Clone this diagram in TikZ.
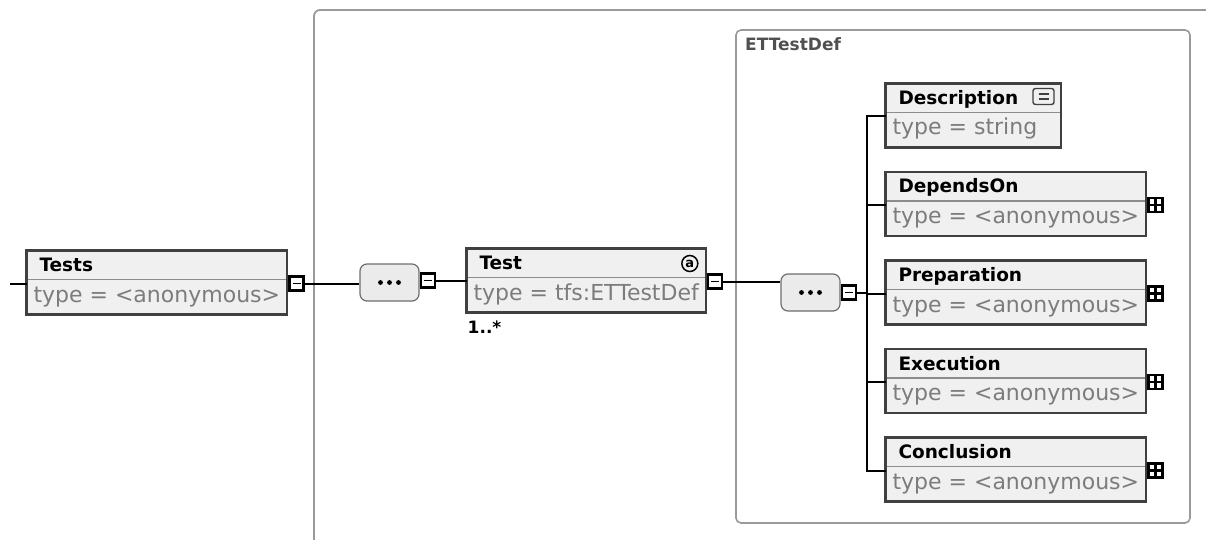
\documentclass[tikz,border=0pt]{standalone}
\usepackage{fontspec}
\setmainfont{DejaVu Sans}
\usetikzlibrary{positioning,shapes.multipart}

\definecolor{boxline}{HTML}{404040}
\definecolor{boxfill}{HTML}{F0F0F0}
\definecolor{splitline}{HTML}{8C8C8C}
\definecolor{typegray}{HTML}{7C7C7C}
\definecolor{framegray}{HTML}{9A9A9A}
\definecolor{labelgray}{HTML}{505050}
\definecolor{seqfill}{HTML}{EBEBEB}
\definecolor{seqline}{HTML}{6E6E6E}

\newcommand\elname[1]{\rule[-8pt]{0pt}{29pt}\hspace*{6pt}{\fontsize{18.5pt}{20pt}\selectfont\bfseries #1}}
\newcommand\eltype[1]{\rule[-12.5pt]{0pt}{35pt}{\fontsize{22pt}{24pt}\selectfont\color{typegray}#1}}

\begin{document}
\begin{tikzpicture}[x=1pt, y=-1pt,
    conn/.style={draw=black, line width=2pt},
    frame/.style={draw=framegray, line width=1.8pt},
    elem/.style={rectangle split, rectangle split parts=2, rectangle split draw splits=false,
      rectangle split part align={left,left}, draw=none, line width=0pt, fill=boxfill,
      inner xsep=7pt, inner ysep=0pt, outer sep=0pt, minimum width=259pt, anchor=north west},
    border/.style={draw=boxline, line width=2.6pt},
    split/.style={draw=splitline, line width=1.2pt},
    seq/.style={draw=seqline, fill=seqfill, line width=1.2pt, rounded corners=7pt,
      minimum width=59pt, minimum height=37pt, inner sep=0pt, path picture={
      \foreach \dx in {-9,0,9}
        \fill[black] ([xshift=\dx pt]path picture bounding box.center) circle[radius=2.4pt];
    }},
    fold/.style={draw=black, fill=white, line width=2.2pt, minimum size=14pt, inner sep=0pt,
      outer sep=0pt, anchor=west},
    minus/.style={fold, path picture={
      \draw[black, line width=1.6pt] ([xshift=-4pt]path picture bounding box.center) -- ([xshift=4pt]path picture bounding box.center);
    }},
    plus/.style={fold, path picture={
      \draw[black, line width=2.2pt] (path picture bounding box.north) -- (path picture bounding box.south)
        (path picture bounding box.west) -- (path picture bounding box.east);
    }},
]
  \useasboundingbox (0,0) rectangle (1206,540);
  \clip (0,0) rectangle (1206,540);

  % containers
  \draw[frame, rounded corners=6pt] (314,560) -- (314,10) -- (1230,10);
  \draw[frame, line width=1.6pt, rounded corners=5pt] (736,30) rectangle (1190,523);
  \node[anchor=base west, inner sep=0pt, text=labelgray, font=\fontsize{17pt}{17pt}\selectfont\bfseries] (deflabel) at (745,51) {ETTestDef};

  % elements
  \node[elem, minimum width=258pt] (tests) at (26.5,250.5) {\elname{Tests}\nodepart{two}\eltype{type = <anonymous>}};
  \node[elem, minimum width=239pt] (test) at (466.5,248.5) {\elname{Test}\nodepart{two}\eltype{type = tfs:ETTestDef}};
  \node[elem, minimum width=175.5pt] (descr) at (885.5,83.5) {\elname{Description}\nodepart{two}\eltype{type = string}};
  \node[elem, below=24.5pt of descr.south west, anchor=north west] (depends) {\elname{DependsOn}\nodepart{two}\eltype{type = <anonymous>}};
  \node[elem, below=24.5pt of depends.south west, anchor=north west] (prep) {\elname{Preparation}\nodepart{two}\eltype{type = <anonymous>}};
  \node[elem, below=24.5pt of prep.south west, anchor=north west] (exec) {\elname{Execution}\nodepart{two}\eltype{type = <anonymous>}};
  \node[elem, below=24.5pt of exec.south west, anchor=north west] (concl) {\elname{Conclusion}\nodepart{two}\eltype{type = <anonymous>}};
  \foreach \el in {tests,test,descr,depends,prep,exec,concl} {
    \draw[split] (\el.text split west) -- (\el.text split east);
    \draw[border] (\el.north west) rectangle (\el.south east);
  }

  % sequences
  \node[seq] (seqa) at (389.5,282.5) {};
  \node[seq] (seqb) at (810.5,292.5) {};

  % Tests
  \coordinate (entry) at ([xshift=-16.5pt,yshift=-4pt]tests.text split west);
  \draw[conn] (entry) -- ([yshift=-4pt]tests.text split west);
  \node[minus] (testsfold) at ([xshift=2.5pt,yshift=-4pt]tests.text split east) {};
  \node[minus] (seqafold) at ([xshift=1pt,yshift=2pt]seqa.east) {};
  \draw[conn] (testsfold.east) -- (testsfold.east -| seqa.west);

  % Test
  \draw[conn] (seqafold.east) -- (seqafold.east -| test.west);
  \node[circle, draw=black, line width=1.5pt, inner sep=0pt, minimum size=16pt,
        font=\fontsize{13pt}{13pt}\selectfont\bfseries] (testattr) at ([xshift=-16pt,yshift=-15pt]test.north east) {a};
  \node[anchor=base west, inner sep=0pt, font=\fontsize{17pt}{17pt}\selectfont\bfseries] (testocc) at ([xshift=1pt,yshift=-21pt]test.south west) {1..*};
  \node[minus] (testfold) at ([xshift=2.5pt,yshift=-4pt]test.text split east) {};
  \draw[conn] (testfold.east) -- (testfold.east -| seqb.west);
  \node[minus] (seqbfold) at ([xshift=1pt]seqb.east) {};

  % children
  \node[draw=boxline, fill=boxfill, line width=1.4pt, rounded corners=2.5pt, minimum width=21pt,
        minimum height=16pt, inner sep=0pt, path picture={
          \draw[boxline, line width=1.2pt] ([xshift=-5pt,yshift=2.5pt]path picture bounding box.center) -- ([xshift=5pt,yshift=2.5pt]path picture bounding box.center)
            ([xshift=-5pt,yshift=-2.5pt]path picture bounding box.center) -- ([xshift=5pt,yshift=-2.5pt]path picture bounding box.center);
        }] (descrdoc) at ([xshift=-17.5pt,yshift=-13pt]descr.north east) {};
  \foreach \el in {depends,prep,exec,concl}
    \node[plus] (\el fold) at ([xshift=2.5pt,yshift=-4pt]\el.text split east) {};

  \coordinate (bus) at ([xshift=-18.5pt,yshift=-4pt]descr.text split west);
  \draw[conn] ([yshift=-4pt]descr.text split west) -- (bus) |- ([yshift=-4pt]concl.text split west);
  \foreach \el in {depends,prep,exec}
    \draw[conn] ([yshift=-4pt]\el.text split west) -- ++(-18.5,0);
  \draw[conn] (seqbfold.east) -- (seqbfold.east -| bus);
\end{tikzpicture}
\end{document}
